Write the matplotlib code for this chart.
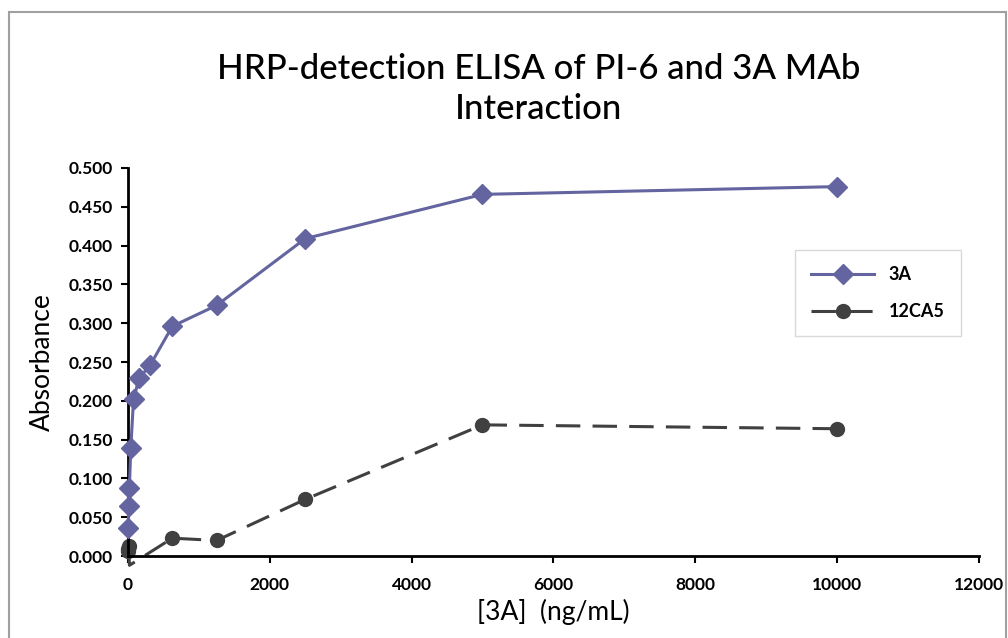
import matplotlib.pyplot as plt
from matplotlib.patches import Rectangle

plt.rcParams['font.family'] = ['Lato', 'DejaVu Sans']

# 3A series (ng/mL, absorbance)
conc_3a = [4.9, 9.8, 19.5, 39, 78, 156, 312.5, 625, 1250, 2500, 5000, 10000]
abs_3a = [0.036, 0.064, 0.088, 0.139, 0.202, 0.229, 0.246, 0.296, 0.323, 0.409, 0.466, 0.476]

# 12CA5 control series
conc_12ca5 = [10000, 5000, 2500, 1250, 625, 20, 10, 5, 2.5]
abs_12ca5 = [0.164, 0.169, 0.073, 0.020, 0.023, -0.012, 0.013, 0.009, 0.006]

x_ticks = [0, 2000, 4000, 6000, 8000, 10000, 12000]
y_ticks = [0.0, 0.05, 0.1, 0.15, 0.2, 0.25, 0.3, 0.35, 0.4, 0.45, 0.5]

fig = plt.figure(figsize=(10.08, 6.38), dpi=100)
fig.patches.append(Rectangle((9 / 1008, -0.05), 997 / 1008, 1 - 12 / 638 + 0.05,
                             transform=fig.transFigure, fill=False,
                             edgecolor='#a0a0a0', linewidth=1.5))

ax = fig.add_axes([0.127, 0.1285, 0.844, 0.6082])

ax.plot(conc_3a, abs_3a, color='#6464a0', linewidth=2.2, marker='D',
        markersize=10, label='3A', clip_on=False, zorder=3)
ax.plot(conc_12ca5, abs_12ca5, color='#404040', linewidth=2.2, marker='o',
        markersize=10, dashes=(8, 4), label='12CA5', clip_on=False, zorder=2)
# hide marker of the point below zero
ax.lines[1].set_markevery([0, 1, 2, 3, 4, 6, 7, 8])

ax.set_xlim(0, 12000)
ax.set_ylim(0, 0.5)
ax.set_xticks(x_ticks)
ax.set_yticks(y_ticks)
ax.set_xticklabels([str(t) for t in x_ticks])
ax.set_yticklabels(['%.3f' % t for t in y_ticks])
for lab in ax.get_xticklabels() + ax.get_yticklabels():
    lab.set_fontweight('bold')
    lab.set_fontsize(12.5)
ax.tick_params(axis='both', direction='out', length=5, width=1.5, color='black')
ax.tick_params(axis='x', pad=10)
ax.tick_params(axis='y', pad=6)

for side in ['top', 'right']:
    ax.spines[side].set_visible(False)
ax.spines['left'].set_linewidth(2)
ax.spines['bottom'].set_linewidth(2)

ax.set_xlabel('[3A]  (ng/mL)', fontsize=19, labelpad=4)
ax.set_ylabel('Absorbance', fontsize=19, labelpad=10)

fig.text(0.534, 0.861, 'HRP-detection ELISA of PI-6 and 3A MAb\nInteraction',
         ha='center', va='center', fontsize=25, fontweight='medium',
         linespacing=1.3)

leg = ax.legend(loc='upper left', bbox_to_anchor=(0.784, 0.789), frameon=True,
                fancybox=False, edgecolor='#d0d0d0', fontsize=13,
                handlelength=3.5, borderpad=0.9, labelspacing=1.1,
                borderaxespad=0)
for t in leg.get_texts():
    t.set_fontweight('bold')

fig.savefig('out.png', dpi=100)
